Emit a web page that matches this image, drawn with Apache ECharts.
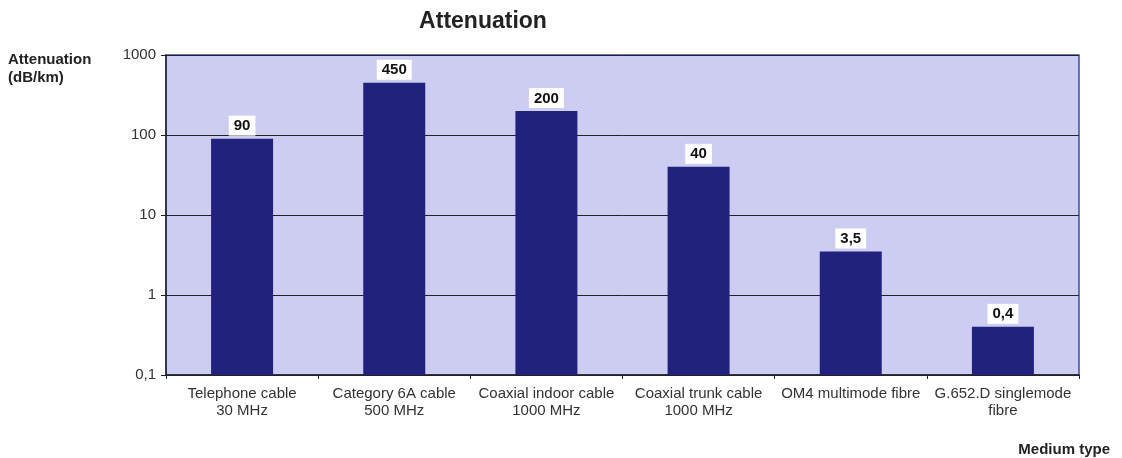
<!DOCTYPE html>
<html><head><meta charset="utf-8">
<script src="https://cdn.jsdelivr.net/npm/echarts@6/dist/echarts.min.js"></script>
<style>html,body{margin:0;padding:0;background:#fff}#c{width:1122px;height:458px}</style>
</head><body><div id="c"></div>
<script>
const categories = ["Telephone cable\n30 MHz","Category 6A cable\n500 MHz","Coaxial indoor cable\n1000 MHz","Coaxial trunk cable\n1000 MHz","OM4 multimode fibre","G.652.D singlemode\nfibre"];
const values = [90, 450, 200, 40, 3.5, 0.4];
const valueLabels = ["90","450","200","40","3,5","0,4"];
const axisMin = 0.1;
const chart = echarts.init(document.getElementById('c'));
chart.setOption({
  animation:false,
  title:{text:'Attenuation',left:478,top:5,textAlign:'center',textStyle:{fontFamily:'Liberation Sans, Arial',fontWeight:'bold',fontSize:23,color:'#222'}},
  graphic:[
    {type:'text',left:8,top:51,style:{text:'Attenuation\n(dB/km)',font:'bold 15px Liberation Sans, Arial',fill:'#222',lineHeight:18}},
    {type:'text',right:12,top:442,style:{text:'Medium type',font:'bold 15px Liberation Sans, Arial',fill:'#222'}}
  ],
  grid:{left:166,right:43,top:55,bottom:83,show:true,backgroundColor:'#cdcdf1',borderColor:'#4646b4',borderWidth:1.5},
  xAxis:{type:'category',data:categories,
    axisLine:{lineStyle:{color:'#222',width:1.5}},
    axisTick:{show:true,inside:false,length:4,lineStyle:{color:'#222'}},
    axisLabel:{interval:0,color:'#333',fontFamily:'Liberation Sans, Arial',fontSize:15,lineHeight:17,margin:10}},
  yAxis:{type:'log',logBase:10,min:axisMin,max:1000,
    axisLine:{show:true,lineStyle:{color:'#222',width:1.5}},
    axisTick:{show:true,length:5,lineStyle:{color:'#222'}},
    splitLine:{show:true,lineStyle:{color:'#222',width:1}},
    minorTick:{show:false},
    axisLabel:{color:'#333',fontFamily:'Liberation Sans, Arial',fontSize:15,margin:10,formatter:v=>String(v).replace('.',',')}},
  series:[
    {type:'bar',stack:'s',data:values.map(()=>axisMin),barWidth:62,itemStyle:{color:'rgba(0,0,0,0)'},silent:true},
    {type:'bar',stack:'s',data:values.map(v=>v-axisMin),barWidth:62,itemStyle:{color:'#21217e'},
    label:{show:true,position:'top',distance:3,formatter:p=>valueLabels[p.dataIndex],backgroundColor:'#fff',padding:[3,5,2,5],color:'#111',fontWeight:'bold',fontSize:15,fontFamily:'Liberation Sans, Arial'}}]
});
</script></body></html>
